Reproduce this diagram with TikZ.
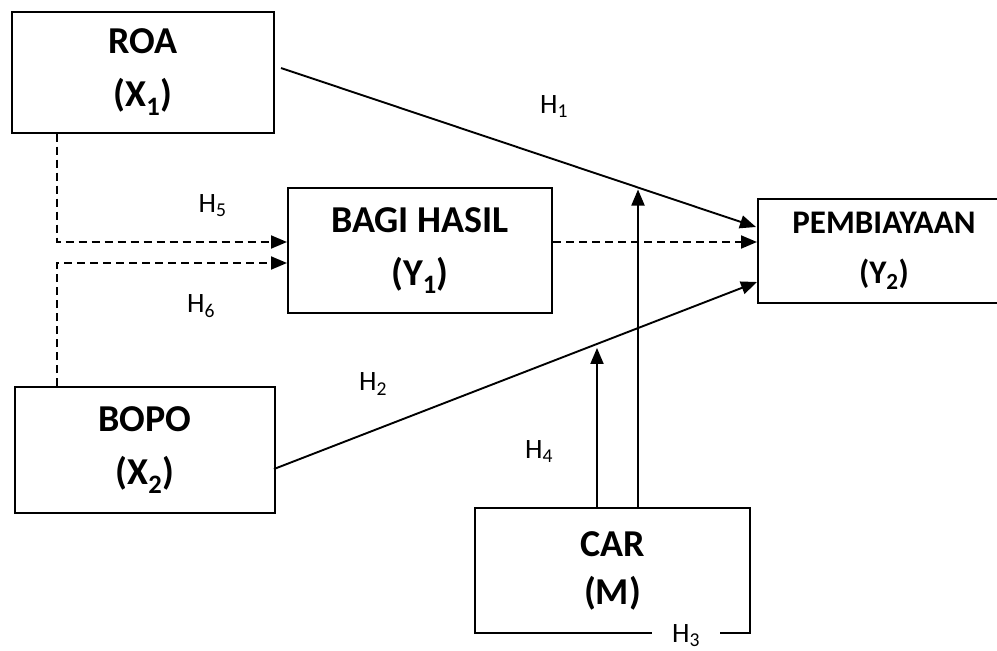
\documentclass[tikz,border=0pt]{standalone}
\usepackage{fontspec}
\setmainfont{Carlito}
\usetikzlibrary{arrows.meta,calc}
\begin{document}
\begin{tikzpicture}[x=1pt,y=-1pt,
  box/.style={draw, line width=2pt, align=center, inner sep=0pt,
    font=\fontsize{38}{53}\selectfont\bfseries},
  solidarrow/.style={line width=1.9pt, -{Triangle[length=16pt,width=13pt]}},
  dasharrow/.style={solidarrow, dash pattern=on 8pt off 5pt},
  hlabel/.style={font=\fontsize{28}{30}\selectfont, inner sep=0pt}]
\useasboundingbox (0,0) rectangle (997,651);
\clip (0,0) rectangle (997,651);
\fill[white] (0,0) rectangle (997,651);

% boxes
\node[box, minimum width=262pt, minimum height=121pt] (roa) at (143,72) {ROA\\(X\textsubscript{1})};
\node[box, minimum width=264pt, minimum height=125pt] (bagi) at (420,250.5) {BAGI HASIL\\(Y\textsubscript{1})};
\node[box, minimum width=252pt, minimum height=104pt, font=\fontsize{33}{50}\selectfont\bfseries] (pem) at (884,251) {PEMBIAYAAN\\(Y\textsubscript{2})};
\node[box, minimum width=260pt, minimum height=126pt] (bopo) at (145,450) {BOPO\\(X\textsubscript{2})};
\node[box, minimum width=275pt, minimum height=125pt, font=\fontsize{38}{48}\selectfont\bfseries] (car) at (612.5,570.5) {CAR\\(M)};

% dashed connectors
\coordinate (j5) at (57,242);
\coordinate (j6) at (57,263);
\draw[dasharrow] (roa.south -| j5) -- (j5) -- (j5 -| bagi.west);
\draw[dasharrow] (bopo.north -| j6) -- (j6) -- (j6 -| bagi.west);
\draw[dasharrow] (bagi.east |- j5) -- (j5 -| pem.west);

% solid connectors
\coordinate (h1s) at ($(roa.east)+(6,-4)$);
\coordinate (h1e) at ($(pem.west)+(-1,-24)$);
\draw[solidarrow] (h1s) -- (h1e);
\coordinate (h2s) at ($(bopo.east)+(-2,19)$);
\coordinate (h2e) at ($(pem.west)+(0,31)$);
\draw[solidarrow] (h2s) -- (h2e);

\coordinate (m1) at ($(car.north west)+(164,0)$);
\coordinate (m1up) at ($(m1)+(0,-100)$);
\draw[solidarrow, shorten >=2pt] (m1) -- (intersection of m1--m1up and h1s--h1e);
\coordinate (m2) at ($(car.north west)+(123,0)$);
\coordinate (m2up) at ($(m2)+(0,-100)$);
\draw[solidarrow, shorten >=4pt] (m2) -- (intersection of m2--m2up and h2s--h2e);

% labels
\node[hlabel] (l1) at (554,106.5) {H\textsubscript{1}};
\node[hlabel] (l2) at (373,384) {H\textsubscript{2}};
\node[hlabel, fill=white, minimum width=68pt] (l3) at (686,635.5) {H\textsubscript{3}};
\node[hlabel] (l4) at (539,452) {H\textsubscript{4}};
\node[hlabel] (l5) at (212.5,206) {H\textsubscript{5}};
\node[hlabel] (l6) at (201,306) {H\textsubscript{6}};
\end{tikzpicture}
\end{document}
